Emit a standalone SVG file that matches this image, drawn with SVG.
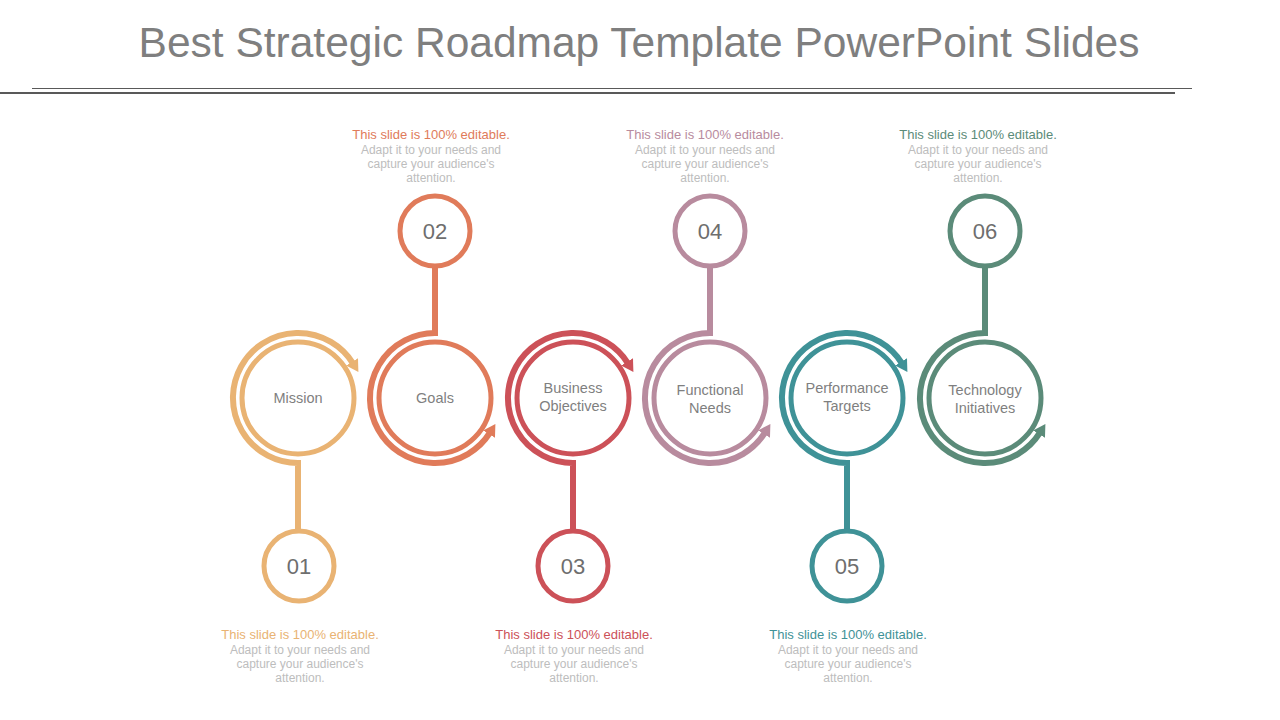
<svg xmlns="http://www.w3.org/2000/svg" width="1280" height="720" viewBox="0 0 1280 720">
<defs>
<style>
.t{font-family:"Liberation Sans",Arial,sans-serif;}
.title{font-size:42.5px;fill:#7f7f7f;text-anchor:middle;}
.lbl{font-size:14.5px;fill:#7f7f7f;text-anchor:middle;}
.num{font-size:22px;fill:#6e6e6e;text-anchor:middle;}
.hd{font-size:13px;text-anchor:middle;}
.bd{font-size:12px;fill:#bdbdbd;text-anchor:middle;}
.ring{fill:none;stroke-width:5;}
.arc{fill:none;stroke-width:6;stroke-linejoin:miter;}
.c1{stroke:#e9b373;} .f1{fill:#e9b373;}
.c2{stroke:#e07b5a;} .f2{fill:#e07b5a;}
.c3{stroke:#cc5158;} .f3{fill:#cc5158;}
.c4{stroke:#b88b9e;} .f4{fill:#b88b9e;}
.c5{stroke:#3f9297;} .f5{fill:#3f9297;}
.c6{stroke:#5b8b79;} .f6{fill:#5b8b79;}
</style>
<marker id="m1" viewBox="0 0 12 14" refX="2" refY="7" markerWidth="12" markerHeight="14" markerUnits="userSpaceOnUse" orient="auto"><path d="M0,0 L12,7 L0,14 z" fill="#e9b373"/></marker>
<marker id="m2" viewBox="0 0 12 14" refX="2" refY="7" markerWidth="12" markerHeight="14" markerUnits="userSpaceOnUse" orient="auto"><path d="M0,0 L12,7 L0,14 z" fill="#e07b5a"/></marker>
<marker id="m3" viewBox="0 0 12 14" refX="2" refY="7" markerWidth="12" markerHeight="14" markerUnits="userSpaceOnUse" orient="auto"><path d="M0,0 L12,7 L0,14 z" fill="#cc5158"/></marker>
<marker id="m4" viewBox="0 0 12 14" refX="2" refY="7" markerWidth="12" markerHeight="14" markerUnits="userSpaceOnUse" orient="auto"><path d="M0,0 L12,7 L0,14 z" fill="#b88b9e"/></marker>
<marker id="m5" viewBox="0 0 12 14" refX="2" refY="7" markerWidth="12" markerHeight="14" markerUnits="userSpaceOnUse" orient="auto"><path d="M0,0 L12,7 L0,14 z" fill="#3f9297"/></marker>
<marker id="m6" viewBox="0 0 12 14" refX="2" refY="7" markerWidth="12" markerHeight="14" markerUnits="userSpaceOnUse" orient="auto"><path d="M0,0 L12,7 L0,14 z" fill="#5b8b79"/></marker>
</defs>
<rect width="1280" height="720" fill="#ffffff"/>
<text class="t title" x="639" y="57">Best Strategic Roadmap Template PowerPoint Slides</text>
<line x1="32" y1="88.5" x2="1192" y2="88.5" stroke="#595959" stroke-width="1"/>
<line x1="0" y1="93" x2="1175" y2="93" stroke="#595959" stroke-width="2"/>

<g id="connectors">
<path class="arc c1" d="M298,531 V463 A65,65 0 1,1 353.1,363.6" marker-end="url(#m1)"/>
<path class="arc c2" d="M435,266 V333 A65,65 0 1,0 490.1,432.4" marker-end="url(#m2)"/>
<path class="arc c3" d="M573,531 V463 A65,65 0 1,1 628.1,363.6" marker-end="url(#m3)"/>
<path class="arc c4" d="M710,266 V333 A65,65 0 1,0 765.1,432.4" marker-end="url(#m4)"/>
<path class="arc c5" d="M847,531 V463 A65,65 0 1,1 902.1,363.6" marker-end="url(#m5)"/>
<path class="arc c6" d="M985,266 V333 A65,65 0 1,0 1040.1,432.4" marker-end="url(#m6)"/>
</g>

<g id="node-mission">
<circle class="ring c1" cx="298" cy="398" r="56" fill="#fff"/>
<text class="t lbl" x="298" y="403">Mission</text>
</g>
<g id="node-01">
<circle class="ring c1" cx="299" cy="566" r="35" fill="#fff"/>
<text class="t num" x="299" y="574">01</text>
<text class="t hd f1" x="300" y="639">This slide is 100% editable.</text>
<text class="t bd" x="300" y="654">Adapt it to your needs and</text>
<text class="t bd" x="300" y="668">capture your audience's</text>
<text class="t bd" x="300" y="682">attention.</text>
</g>

<g id="node-goals">
<circle class="ring c2" cx="435" cy="398" r="56" fill="#fff"/>
<text class="t lbl" x="435" y="403">Goals</text>
</g>
<g id="node-02">
<circle class="ring c2" cx="435" cy="231" r="35" fill="#fff"/>
<text class="t num" x="435" y="239">02</text>
<text class="t hd f2" x="431" y="139">This slide is 100% editable.</text>
<text class="t bd" x="431" y="154">Adapt it to your needs and</text>
<text class="t bd" x="431" y="168">capture your audience's</text>
<text class="t bd" x="431" y="182">attention.</text>
</g>

<g id="node-business">
<circle class="ring c3" cx="573" cy="398" r="56" fill="#fff"/>
<text class="t lbl" x="573" y="393">Business</text>
<text class="t lbl" x="573" y="411">Objectives</text>
</g>
<g id="node-03">
<circle class="ring c3" cx="573" cy="566" r="35" fill="#fff"/>
<text class="t num" x="573" y="574">03</text>
<text class="t hd f3" x="574" y="639">This slide is 100% editable.</text>
<text class="t bd" x="574" y="654">Adapt it to your needs and</text>
<text class="t bd" x="574" y="668">capture your audience's</text>
<text class="t bd" x="574" y="682">attention.</text>
</g>

<g id="node-functional">
<circle class="ring c4" cx="710" cy="398" r="56" fill="#fff"/>
<text class="t lbl" x="710" y="395">Functional</text>
<text class="t lbl" x="710" y="413">Needs</text>
</g>
<g id="node-04">
<circle class="ring c4" cx="710" cy="231" r="35" fill="#fff"/>
<text class="t num" x="710" y="239">04</text>
<text class="t hd f4" x="705" y="139">This slide is 100% editable.</text>
<text class="t bd" x="705" y="154">Adapt it to your needs and</text>
<text class="t bd" x="705" y="168">capture your audience's</text>
<text class="t bd" x="705" y="182">attention.</text>
</g>

<g id="node-performance">
<circle class="ring c5" cx="847" cy="398" r="56" fill="#fff"/>
<text class="t lbl" x="847" y="393">Performance</text>
<text class="t lbl" x="847" y="411">Targets</text>
</g>
<g id="node-05">
<circle class="ring c5" cx="847" cy="566" r="35" fill="#fff"/>
<text class="t num" x="847" y="574">05</text>
<text class="t hd f5" x="848" y="639">This slide is 100% editable.</text>
<text class="t bd" x="848" y="654">Adapt it to your needs and</text>
<text class="t bd" x="848" y="668">capture your audience's</text>
<text class="t bd" x="848" y="682">attention.</text>
</g>

<g id="node-technology">
<circle class="ring c6" cx="985" cy="398" r="56" fill="#fff"/>
<text class="t lbl" x="985" y="395">Technology</text>
<text class="t lbl" x="985" y="413">Initiatives</text>
</g>
<g id="node-06">
<circle class="ring c6" cx="985" cy="231" r="35" fill="#fff"/>
<text class="t num" x="985" y="239">06</text>
<text class="t hd f6" x="978" y="139">This slide is 100% editable.</text>
<text class="t bd" x="978" y="154">Adapt it to your needs and</text>
<text class="t bd" x="978" y="168">capture your audience's</text>
<text class="t bd" x="978" y="182">attention.</text>
</g>
</svg>
